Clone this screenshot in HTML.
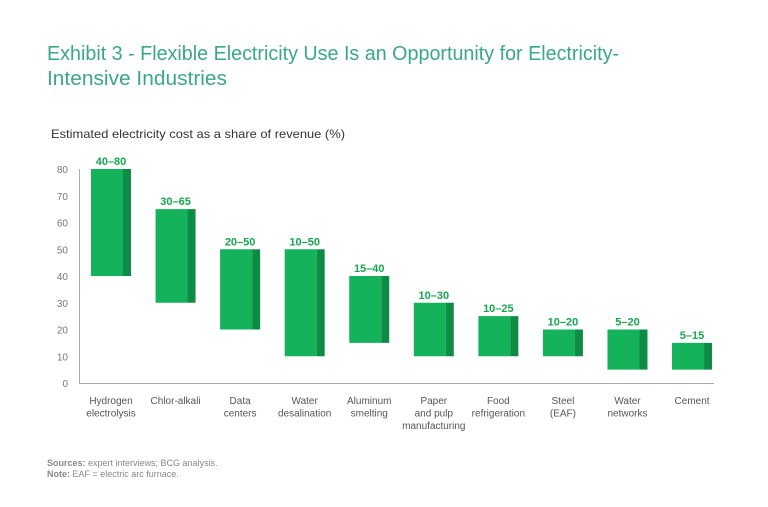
<!DOCTYPE html>
<html><head><meta charset="utf-8"><style>
body{margin:0;background:#fff;width:768px;height:502px;overflow:hidden;font-family:"Liberation Sans",sans-serif}
</style></head><body>
<svg width="768" height="502" style="font-family:'Liberation Sans',sans-serif">
<text x="47" y="60" font-size="20" fill="#3aa884" textLength="572" lengthAdjust="spacingAndGlyphs">Exhibit 3 - Flexible Electricity Use Is an Opportunity for Electricity-</text>
<text x="47" y="85" font-size="20" fill="#3aa884" textLength="180" lengthAdjust="spacingAndGlyphs">Intensive Industries</text>
<text x="51" y="138" font-size="12" fill="#333" textLength="294" lengthAdjust="spacingAndGlyphs">Estimated electricity cost as a share of revenue (%)</text>
<g id="plot"></g>
<text x="47" y="466" font-size="9" fill="#888"><tspan font-weight="bold">Sources:</tspan> expert interviews; BCG analysis.</text>
<text x="47" y="477" font-size="9" fill="#888"><tspan font-weight="bold">Note:</tspan> EAF = electric arc furnace.</text>
</svg>
<script>
const categories=[["Hydrogen","electrolysis"],["Chlor-alkali"],["Data","centers"],["Water","desalination"],["Aluminum","smelting"],["Paper","and pulp","manufacturing"],["Food","refrigeration"],["Steel","(EAF)"],["Water","networks"],["Cement"]];
const lows=[40,30,20,10,15,10,10,10,5,5];
const highs=[80,65,50,50,40,30,25,20,20,15];
const yTicks=[0,10,20,30,40,50,60,70,80];
const NS="http://www.w3.org/2000/svg";
const g=document.getElementById('plot');
const y=v=>383-v*2.675;
const x=i=>91+i*64.56;
function mk(t,a,txt){const e=document.createElementNS(NS,t);for(const k in a)e.setAttribute(k,a[k]);if(txt!=null)e.textContent=txt;g.appendChild(e);return e;}
yTicks.forEach(t=>{const e=mk('text',{x:68,y:y(t)+4,'font-size':10,fill:'#777','text-anchor':'end'},t);

});
const ax=mk('path',{d:`M79.5 ${y(80)} V${y(0)+0.5} H714`,stroke:'#aaa',fill:'none'});


categories.forEach((c,i)=>{
 const bx=x(i),t=y(highs[i]),b=y(lows[i]);
 const r=mk('rect',{x:bx,y:t,width:32,height:b-t,fill:'#13b25b'});
 
 
 const s=mk('rect',{x:bx+32,y:t,width:8,height:b-t,fill:'#0e8b45'});
 
 
 const l=mk('text',{x:bx+20,y:t-4,'font-size':11,'font-weight':'bold',fill:'#17a550','text-anchor':'middle'},lows[i]+'–'+highs[i]);
 
 
 c.forEach((line,j)=>{const e=mk('text',{x:bx+20,y:404+j*12.5,'font-size':10,fill:'#555','text-anchor':'middle'},line);
 
 });
});
</script>
</body></html>
